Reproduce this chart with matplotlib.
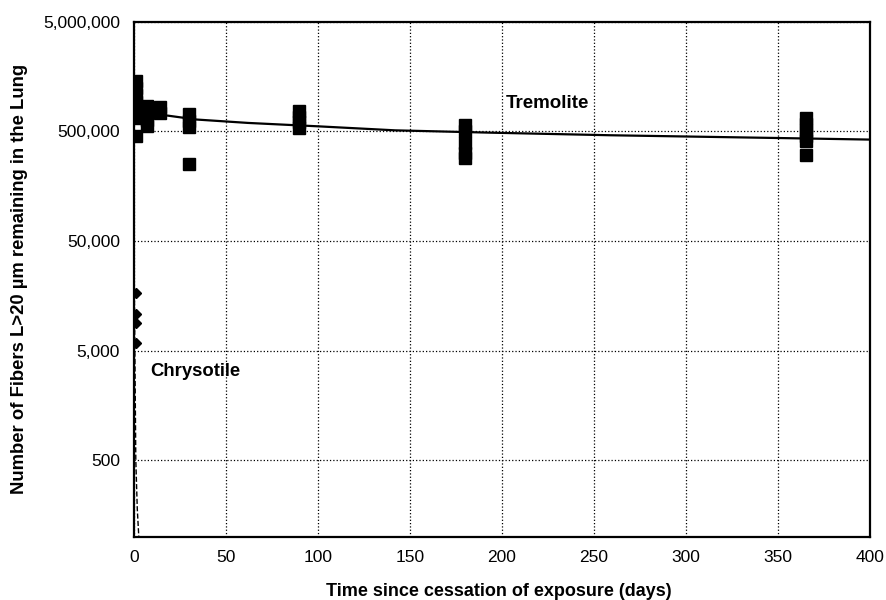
import matplotlib
matplotlib.use('Agg')
import matplotlib.pyplot as plt
from matplotlib.ticker import FuncFormatter, FixedLocator

plt.rcParams['font.family'] = ['Liberation Sans', 'DejaVu Sans']

# tremolite measurements (days, fibers)
trem_days = [1] * 7 + [7] * 4 + [14] * 2 + [30] * 4 + [90] * 4 + [180] * 5 + [365] * 6
trem_counts = [1430000, 1235000, 1066000, 920000, 778000, 658000, 450000,
               845000, 730000, 630000, 555000,
               828000, 730000,
               714000, 615000, 544000, 250000,
               762000, 671000, 604000, 532000,
               567000, 500000, 389000, 315000, 283000,
               658000, 580000, 510000, 450000, 405000, 302000]

# tremolite fitted curve
trem_fit_days = [0, 3, 10, 17, 34, 62, 100, 142, 193, 259, 347, 400]
trem_fit_counts = [1000000, 820000, 750000, 700000, 640000, 596000, 555000,
                   510000, 486000, 460000, 435000, 420000]

# chrysotile measurements and fitted curve
chrys_days = [1.4, 1.4, 1.4, 1.4]
chrys_counts = [16900, 10900, 9000, 5900]
chrys_fit_days = [0, 0.3, 0.7, 1.1, 1.9, 2.8]
chrys_fit_counts = [200000, 17000, 3000, 500, 180, 95]

y_ticks = [500, 5000, 50000, 500000, 5000000]
x_ticks = [0, 50, 100, 150, 200, 250, 300, 350, 400]

fig = plt.figure(figsize=(8.86, 6), dpi=100)
ax = fig.add_axes([0.151, 0.105, 0.831, 0.859])

ax.plot(trem_fit_days, trem_fit_counts, color='black', lw=1.6)
ax.plot(trem_days, trem_counts, 's', color='black', ms=8)
ax.plot(chrys_fit_days, chrys_fit_counts, '--', color='black', lw=1.0)
ax.plot(chrys_days, chrys_counts, 'D', color='black', ms=5)

ax.set_yscale('log')
ax.set_ylim(100, 5000000)
ax.set_xlim(0, 400)
ax.yaxis.set_major_locator(FixedLocator(y_ticks))
ax.yaxis.set_minor_locator(FixedLocator([]))
ax.yaxis.set_major_formatter(FuncFormatter(lambda v, p: f'{int(v):,}'))
ax.xaxis.set_major_locator(FixedLocator(x_ticks))

ax.grid(True, which='major', linestyle=':', color='black', lw=0.9)
ax.tick_params(axis='both', length=0, labelsize=12.5)
ax.tick_params(axis='y', pad=10)
ax.tick_params(axis='x', pad=9)
for s in ax.spines.values():
    s.set_linewidth(1.6)

ax.text(224.5, 902000, 'Tremolite', fontsize=13.5, fontweight='bold', ha='center', va='center')
ax.text(9.2, 3220, 'Chrysotile', fontsize=13.3, fontweight='bold', ha='left', va='center')

fig.text(499 / 886, 1 - 591 / 600, 'Time since cessation of exposure (days)',
         fontsize=13, fontweight='bold', ha='center', va='center')
fig.text(20 / 886, 1 - 279 / 600, 'Number of Fibers L>20 µm remaining in the Lung',
         fontsize=13.3, fontweight='bold', ha='center', va='center', rotation=90)

fig.savefig('out.png', dpi=100)
